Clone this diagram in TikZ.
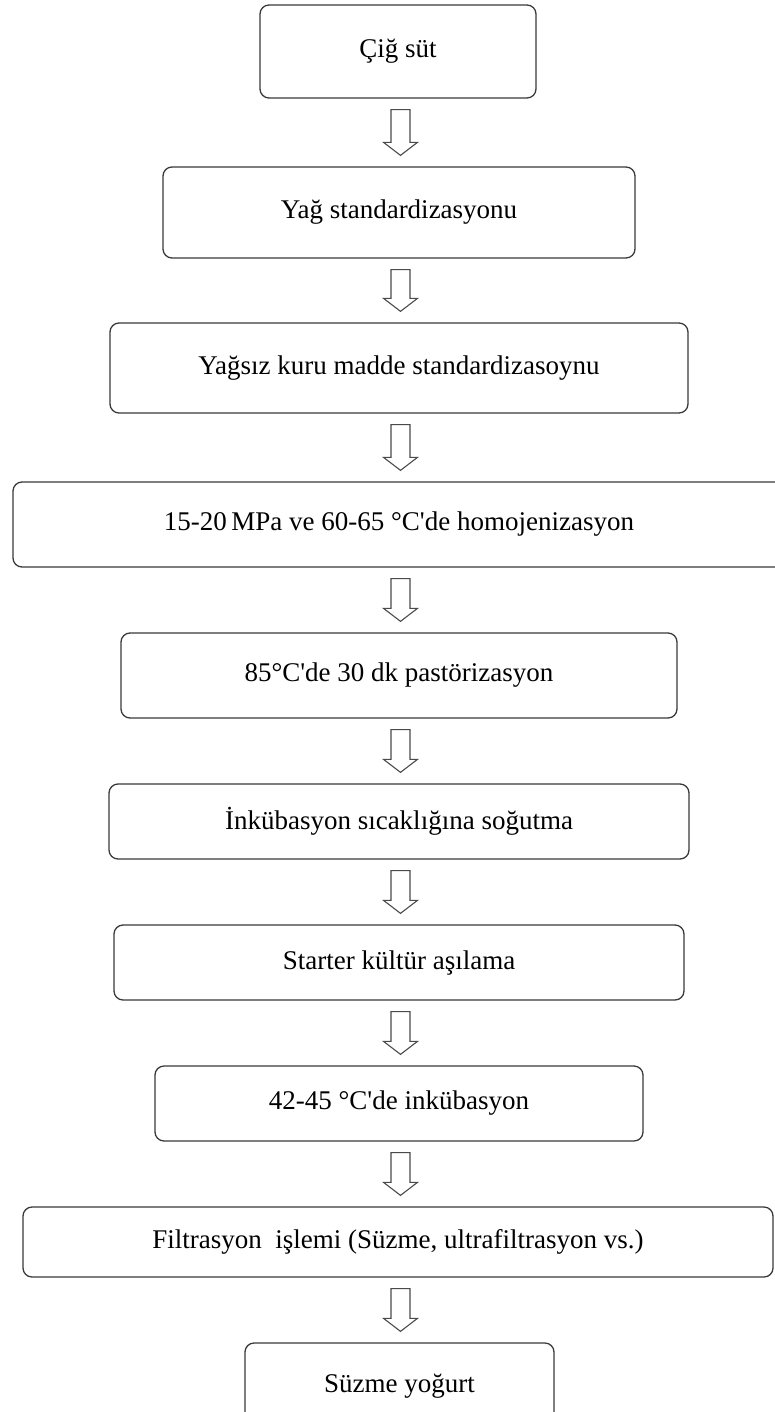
\documentclass[tikz,border=0pt]{standalone}
\usepackage{fontspec}
\setmainfont{Liberation Serif}
\usetikzlibrary{calc}
\definecolor{boxline}{HTML}{3A3A3A}
\definecolor{arrline}{HTML}{4A4A4A}
\tikzset{
  stepbox/.style={draw=boxline, line width=1.3pt, rounded corners=9pt, inner sep=0pt,
    font=\fontsize{27}{31}\selectfont, text=black},
  barrow/.style={draw=arrline, line width=1.1pt, fill=white, line join=miter}
}
\newcommand{\blockarrow}[2]{%
  \draw[barrow] ($(#1.south -| ax)+(-9.5,-11)$) -- ($(#1.south -| ax)+(9.5,-11)$)
    -- ($(#2.north -| ax)+(9.5,24)$) -- ($(#2.north -| ax)+(17,24)$)
    -- ($(#2.north -| ax)+(0,11)$) -- ($(#2.north -| ax)+(-17,24)$)
    -- ($(#2.north -| ax)+(-9.5,24)$) -- cycle;}
\begin{document}
\begin{tikzpicture}[x=1pt,y=1pt]
\useasboundingbox (0,0) rectangle (775,-1412);
\clip (0,0) rectangle (775,-1412);
\fill[white] (0,0) rectangle (775,-1412);
\coordinate (ax) at (400.5,0);
\node[stepbox, minimum width=276pt, minimum height=93pt] (b1) at (398,-51.5) {Çiğ süt};
\node[stepbox, minimum width=472pt, minimum height=91pt] (b2) at (399,-212.5) {Yağ standardizasyonu};
\node[stepbox, minimum width=578pt, minimum height=90pt] (b3) at (399,-368) {Yağsız kuru madde standardizasoynu};
\node[stepbox, minimum width=772pt, minimum height=85pt] (b4) at (399,-524.5) {15-20\,MPa ve 60-65 °C\textquotesingle de homojenizasyon};
\node[stepbox, minimum width=556pt, minimum height=85pt] (b5) at (399,-675.5) {85°C\textquotesingle de 30 dk pastörizasyon};
\node[stepbox, minimum width=580pt, minimum height=75pt] (b6) at (399,-821.5) {İnkübasyon sıcaklığına soğutma};
\node[stepbox, minimum width=570pt, minimum height=75pt] (b7) at (399,-962.5) {Starter kültür aşılama};
\node[stepbox, minimum width=488pt, minimum height=75pt] (b8) at (399,-1103.5) {42-45 °C\textquotesingle de inkübasyon};
\node[stepbox, minimum width=750pt, minimum height=70pt] (b9) at (398,-1242) {Filtrasyon\ \ işlemi (Süzme, ultrafiltrasyon vs.)};
\node[stepbox, minimum width=309pt, minimum height=87pt] (b10) at (399.5,-1386.5) {Süzme yoğurt};
\blockarrow{b1}{b2}
\blockarrow{b2}{b3}
\blockarrow{b3}{b4}
\blockarrow{b4}{b5}
\blockarrow{b5}{b6}
\blockarrow{b6}{b7}
\blockarrow{b7}{b8}
\blockarrow{b8}{b9}
\blockarrow{b9}{b10}
\end{tikzpicture}
\end{document}
